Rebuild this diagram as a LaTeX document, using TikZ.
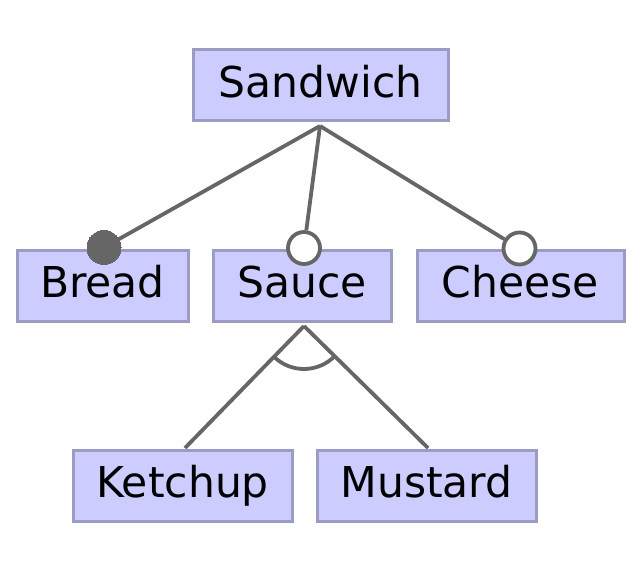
\documentclass[tikz,border=0pt]{standalone}
\usepackage{fontspec}
\setmainfont{DejaVu Sans}
\definecolor{boxfill}{RGB}{204,204,255}
\definecolor{boxline}{RGB}{155,155,195}
\definecolor{linkc}{RGB}{102,102,102}
\begin{document}
\begin{tikzpicture}[x=1pt,y=-1pt,
  feat/.style={draw=boxline,fill=boxfill,line width=3pt,rectangle,inner sep=0pt,
    minimum height=71pt,text height=30.8pt,text depth=7.4pt,
    font=\fontsize{42.5}{50}\selectfont},
  link/.style={draw=linkc,line width=3.8pt},
  mandatory/.style={circle,fill=linkc,draw=linkc,line width=0pt,inner sep=0pt,minimum size=34pt},
  optional/.style={circle,fill=white,draw=linkc,line width=3.8pt,inner sep=0pt,minimum size=32pt}]
\useasboundingbox (0,0) rectangle (644,577);
\node[feat,minimum width=255pt] (sandwich) at (320.5,85.5) {Sandwich};
\node[feat,minimum width=171pt] (bread) at (102.5,285.5) {Bread};
\node[feat,minimum width=178pt] (sauce) at (302,285.5) {Sauce};
\node[feat,minimum width=207pt] (cheese) at (520.5,285.5) {Cheese};
\node[feat,minimum width=219pt] (ketchup) at (182.5,485.5) {Ketchup};
\node[feat,minimum width=219pt] (mustard) at (426.5,485.5) {Mustard};
\coordinate (top) at (320,126);
\coordinate (apex) at (304,326);
\coordinate (kend) at (185,448);
\coordinate (mend) at (428,448);
\node[mandatory] (mbread) at (104,247.5) {};
\node[optional] (osauce) at (304,248) {};
\node[optional] (ocheese) at (519.5,248.5) {};
\draw[link] (top) -- (mbread);
\draw[link] (top) -- (osauce);
\draw[link] (top) -- (ocheese);
\draw[link] (apex) -- (kend);
\draw[link] (apex) -- (mend);
\draw[link] (apex) ++(225.7:43pt) arc[start angle=225.7,end angle=315.5,radius=43pt];
\end{tikzpicture}
\end{document}
